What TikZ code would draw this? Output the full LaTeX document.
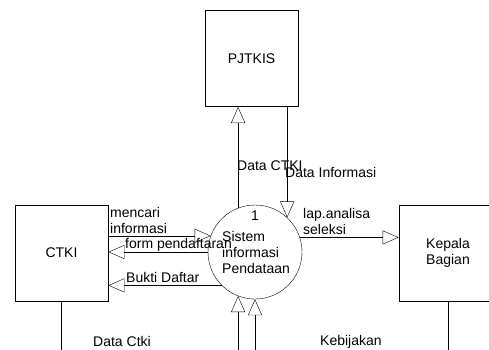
\documentclass[tikz,border=0pt]{standalone}
\usepackage{fontspec}
\setmainfont{Liberation Sans}
\usetikzlibrary{arrows.meta}

\begin{document}
\begin{tikzpicture}[x=1pt,y=-1pt,
  font=\fontsize{14}{16}\selectfont,
  entity/.style={draw,thick,minimum width=93pt,minimum height=96pt,align=center},
  proses/.style={draw,circle,minimum size=94pt,inner sep=0pt},
  flow/.style={-{Triangle[open,length=16pt,width=14pt]}},
  lbl/.style={anchor=west,inner sep=0pt,align=left}]
\clip (0,0) rectangle (489,349);
\fill[white] (0,0) rectangle (489,349);
% context diagram: entities and process
\node[entity] (pjtkis) at (251.5,58.5) {PJTKIS};
\node[entity] (ctki) at (61.5,253) {CTKI};
\node[entity,minimum width=98pt] (kepala) at (448,253) {Kepala\\Bagian};
\node[proses] (proc) at (255,252) {};
\coordinate (bottom) at (0,352);
% flows between ctki and process
\draw[flow] (ctki.east |- proc.160) -- (proc.160);
\draw[flow] (proc.west) -- (ctki.east |- proc.west);
\draw[flow] (proc.225) -- (ctki.east |- proc.225);
% flows to pjtkis
\draw[flow] (proc.111) -- (proc.111 |- pjtkis.south);
\draw[flow] (pjtkis.south -| proc.47) -- (proc.47);
% flow to kepala bagian
\draw[flow] (proc.18) -- (kepala.west |- proc.18);
% lines coming in from below
\draw[flow] (proc.249 |- bottom) -- (proc.249);
\draw[flow] (proc.270 |- bottom) -- (proc.270);
\draw (ctki.south) -- (ctki.south |- bottom);
\draw (kepala.south) -- (kepala.south |- bottom);
% labels
\node at (255,216) (nomor) {1};
\node[lbl] (nama) at (222,252) {Sistem\\informasi\\Pendataan};
\node[lbl] (l1) at (110,220) {mencari\\informasi};
\node[lbl] (l2) at (125,245) {form pendaftaran};
\node[lbl] (l3) at (126,277) {Bukti Daftar};
\node[lbl] (l4) at (237,166) {Data CTKI};
\node[lbl] (l5) at (285,172) {Data Informasi};
\node[lbl] (l6) at (303,221) {lap.analisa\\seleksi};
\node[lbl] (l7) at (93,341.5) {Data Ctki};
\node[lbl] (l8) at (320,341.5) {Kebijakan};
\end{tikzpicture}
\end{document}
